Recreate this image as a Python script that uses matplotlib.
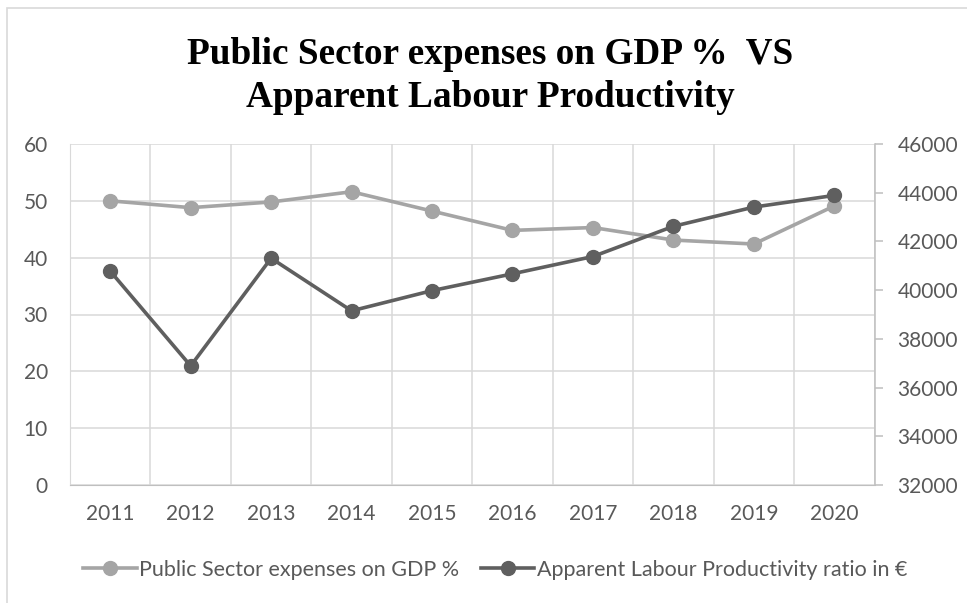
import numpy as np
import matplotlib
matplotlib.use("Agg")
import matplotlib.pyplot as plt
from matplotlib.patches import Rectangle

years = ['2011', '2012', '2013', '2014', '2015', '2016', '2017', '2018', '2019', '2020']
public_exp = [50.0, 48.8, 49.8, 51.6, 48.2, 44.8, 45.3, 43.1, 42.4, 49.1]
productivity = [40780, 36890, 41310, 39150, 39980, 40670, 41380, 42620, 43410, 43890]

light = '#a5a5a5'
dark = '#5f5f5f'
txt = '#595959'
grid = '#d9d9d9'

plt.rcParams['font.family'] = ['Lato', 'DejaVu Sans']

fig = plt.figure(figsize=(9.67, 6.03), dpi=100)
ax = fig.add_axes([70/967, 1-485/603, (874.5-70)/967, (485-144)/603])
ax2 = ax.twinx()

x = np.arange(len(years))
l1, = ax.plot(x, public_exp, color=light, lw=2.6, marker='o', ms=10,
              label='Public Sector expenses on GDP %', zorder=3)
l2, = ax2.plot(x, productivity, color=dark, lw=2.6, marker='o', ms=10,
               label='Apparent Labour Productivity ratio in €', zorder=4)

ax.set_xlim(-0.5, len(years) - 0.5)
ax.set_ylim(0, 60)
ax.set_yticks(range(0, 61, 10))
ax2.set_ylim(32000, 46000)
ax2.set_yticks(range(32000, 46001, 2000))

ax.set_xticks(x)
ax.set_xticklabels(years)
ax.set_xticks(np.arange(-0.5, len(years), 1.0), minor=True)
ax.grid(True, which='minor', axis='x', color=grid, lw=1.1)
ax.grid(True, which='major', axis='y', color=grid, lw=1.1)
ax.set_axisbelow(True)

ax.tick_params(axis='x', which='both', length=0, pad=14, labelsize=15, labelcolor=txt)
ax.tick_params(axis='y', length=0, pad=16, labelsize=15, labelcolor=txt)
ax2.tick_params(axis='y', length=5.5, width=1.1, color='#bfbfbf', pad=11,
                labelsize=15, labelcolor=txt)

ax.spines['top'].set_visible(False)
ax2.spines['top'].set_visible(False)
ax.spines['left'].set_color(grid)
ax.spines['bottom'].set_color('#bfbfbf')
ax.spines['right'].set_visible(False)
ax2.spines['left'].set_visible(False)
ax2.spines['bottom'].set_visible(False)
ax2.spines['right'].set_color('#bfbfbf')
ax2.spines['right'].set_linewidth(1.1)

# two-line title
fig.text(0.507, 1-76/603, 'Public Sector expenses on GDP %  VS\nApparent Labour Productivity',
         ha='center', va='center', fontsize=26.8, fontweight='bold',
         family=['Liberation Serif', 'DejaVu Serif'], linespacing=1.3, color='black')

fig.legend([l1, l2], [l1.get_label(), l2.get_label()], loc='center',
           bbox_to_anchor=(495/967, 1-570/603), ncol=2, frameon=False,
           fontsize=15.5, labelcolor=txt, handlelength=2.5, handletextpad=0.1,
           columnspacing=1.0)

# chart area border
fig.patches.append(Rectangle((6.5/967, -0.1), 1.2, 1.1 - 8/603, transform=fig.transFigure,
                             fill=False, edgecolor=grid, lw=1.2))

fig.savefig('out.png', dpi=100)
